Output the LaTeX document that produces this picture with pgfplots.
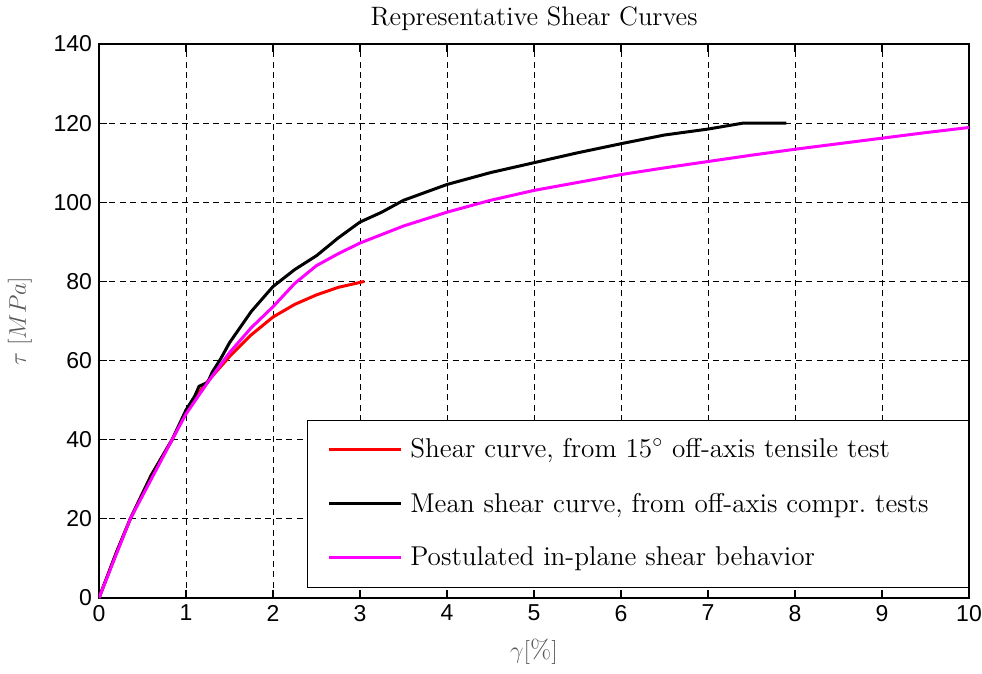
\documentclass[border=0pt]{standalone}
\usepackage{fontspec}
\setsansfont{Liberation Sans}
\usepackage{pgfplots}
\pgfplotsset{compat=1.18}
\definecolor{mag}{rgb}{1,0,1}

\begin{document}
\begin{tikzpicture}
\begin{axis}[
  scale only axis, width=435pt, height=277pt,
  xmin=0, xmax=10, ymin=0, ymax=140,
  xtick={0,1,...,10}, ytick={0,20,...,140},
  grid=major,
  major grid style={black, line width=0.5pt, dash pattern=on 3pt off 2.2pt},
  tick align=inside, major tick length=4pt,
  tick style={black, line width=0.6pt},
  axis line style={line width=0.8pt},
  ticklabel style={font=\sffamily\fontsize{11.5}{13}\selectfont},
  /pgf/number format/assume math mode=true,
  title={Representative Shear Curves},
  title style={font=\fontsize{13.3}{15}\selectfont, yshift=-3pt},
  xlabel={$\gamma[\%]$}, ylabel={$\tau\;[MPa]$},
  label style={font=\fontsize{13}{15}\selectfont, text=black!65},
  xlabel style={yshift=-2pt},
  ylabel style={yshift=4pt},
  legend style={at={(0.239,0.321)}, anchor=north west, draw=black,
    fill=white, font=\fontsize{13.6}{15}\selectfont, row sep=12pt,
    inner xsep=10pt, inner ysep=7pt, cells={anchor=west}},
  legend image code/.code={\draw[#1] (0pt,0pt) -- (36pt,0pt);},
]
\addplot[red, line width=1.5pt] coordinates {
(0,0) (0.2,11.5) (0.36,20) (0.6,31) (0.84,40) (1,47) (1.2,53.5) (1.5,61)
(1.75,66.5) (2,71) (2.25,74.2) (2.5,76.6) (2.75,78.5) (3.05,80)};
\addlegendentry{\hspace{2pt}Shear curve, from 15$^\circ$ off-axis tensile test}
\addplot[black, line width=1.5pt] coordinates {
(0,0) (0.2,11.5) (0.36,20) (0.6,31) (0.84,40) (1,47.5) (1.1,51) (1.15,53.5)
(1.25,54.5) (1.3,57) (1.4,60.5) (1.5,64.5) (1.75,72.4) (2,78.7) (2.25,83)
(2.5,86.5) (2.75,91) (3,95) (3.25,97.5) (3.5,100.5) (3.75,102.5) (4,104.5)
(4.5,107.5) (5,110) (5.5,112.5) (6,114.8) (6.5,117) (7,118.5) (7.4,120) (7.9,120)};
\addlegendentry{\hspace{2pt}Mean shear curve, from off-axis compr.\ tests\rule{8pt}{0pt}}
\addplot[mag, line width=1.5pt] coordinates {
(0,0) (0.36,20) (0.84,40) (1,46.5) (1.25,54.5) (1.5,62) (1.75,68.3) (2,73.6)
(2.25,79.5) (2.5,84) (2.75,87) (3,89.7) (3.5,94) (4,97.5) (4.5,100.5) (5,103)
(5.5,105) (6,107) (6.5,108.7) (7,110.3) (7.5,111.9) (8,113.4) (8.5,114.8)
(9,116.2) (9.5,117.6) (10,118.9)};
\addlegendentry{\hspace{2pt}Postulated in-plane shear behavior}
\end{axis}
\pgfresetboundingbox
\path ([shift={(-49.5pt,-37.5pt)}]current axis.south west) rectangle ([shift={(6.5pt,22pt)}]current axis.north east);
\end{tikzpicture}
\end{document}
